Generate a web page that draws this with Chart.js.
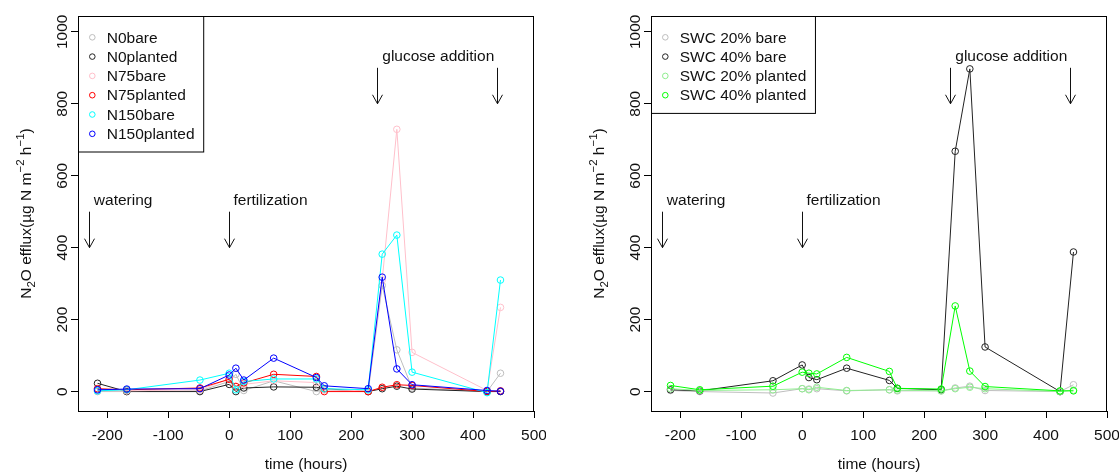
<!DOCTYPE html>
<html>
<head>
<meta charset="utf-8">
<script src="https://cdn.jsdelivr.net/npm/chart.js@4"></script>
<style>
html, body { margin:0; padding:0; background:#fff; overflow:hidden; }
#wrap { position:relative; width:1119px; height:472px; }
.panel { position:absolute; top:0; }
</style>
</head>
<body>
<div id="wrap">
  <canvas id="c1" class="panel" width="546" height="472" style="left:0px"></canvas>
  <canvas id="c2" class="panel" width="546" height="472" style="left:573px"></canvas>
</div>
<script>
// sampling times (hours)
const times = [-216, -168, -48, 0, 11, 24, 73, 143, 156, 228, 251, 275, 300, 423, 445];
const xTicks = [-200, -100, 0, 100, 200, 300, 400, 500];
const yTicks = [0, 200, 400, 600, 800, 1000];

// left panel : N treatments
const n0bare      = [0, 0, 2, 28, 48, 3, 30, 0, 5, 0, 295, 116, 10, 0, 51];
const n0planted   = [23, 0, 0, 20, 0, 10, 13, 12, 8, 0, 8, 15, 7, 0, 0];
const n75bare     = [3, 2, 5, 35, 15, 20, 30, 25, 5, 2, 310, 729, 109, 3, 234];
const n75planted  = [8, 5, 10, 34, 14, 24, 48, 42, 0, 0, 12, 19, 17, 0, 2];
const n150bare    = [2, 5, 32, 51, 5, 28, 35, 35, 8, 5, 382, 435, 54, -3, 310];
const n150planted = [5, 7, 8, 46, 65, 32, 93, 39, 16, 8, 318, 63, 19, 3, 1];

// right panel : soil water content
const swc20bare    = [3, 0, -4, 8, 7, 8, 2, 5, 2, 2, 10, 15, 3, 0, 19];
const swc40bare    = [5, 2, 30, 74, 39, 33, 65, 31, 9, 5, 668, 897, 124, 0, 388];
const swc20planted = [8, 3, 5, 8, 5, 12, 3, 5, 4, 2, 8, 12, 8, 0, 4];
const swc40planted = [17, 5, 15, 54, 51, 49, 95, 56, 9, 7, 238, 57, 14, 2, 2];

const leftNames  = ['N0bare', 'N0planted', 'N75bare', 'N75planted', 'N150bare', 'N150planted'];
const leftColors = ['#bebebe', '#222222', '#ffc0cb', '#ff0000', '#00ffff', '#0000ff'];
const rightNames  = ['SWC 20% bare', 'SWC 40% bare', 'SWC 20% planted', 'SWC 40% planted'];
const rightColors = ['#bebebe', '#222222', '#90ee90', '#00ff00'];

// events: arrows (x, from y, to y) and labels (x, y, text, align)
const eventArrows = [[-230, 500, 400], [0, 500, 400], [242, 900, 800], [440, 900, 800]];
const eventLabels = [[-222, 530, 'watering', 'left'], [7, 530, 'fertilization', 'left'], [343, 932, 'glucose addition', 'center']];

const FONT = '"Liberation Sans", Arial, sans-serif';
const FS = 15.5;

function richText(ctx, parts, cx, cy) {
  // parts: [text, kind] kind 0 normal, 1 sub, 2 sup ; drawn rotated
  let total = 0;
  for (const p of parts) {
    ctx.font = (p[1] ? 11.5 : FS) + 'px ' + FONT;
    total += ctx.measureText(p[0]).width;
  }
  ctx.save();
  ctx.translate(cx, cy);
  ctx.rotate(-Math.PI / 2);
  ctx.textAlign = 'left';
  ctx.textBaseline = 'alphabetic';
  let pos = -total / 2;
  for (const p of parts) {
    ctx.font = (p[1] ? 11.5 : FS) + 'px ' + FONT;
    let dy = p[1] == 1 ? 4 : (p[1] == 2 ? -7 : 0);
    ctx.fillText(p[0], pos, dy);
    pos += ctx.measureText(p[0]).width;
  }
  ctx.restore();
}

function arrow(ctx, x, y1, y2) {
  ctx.beginPath();
  ctx.moveTo(x, y1);
  ctx.lineTo(x, y2);
  ctx.moveTo(x - 5, y2 - 9);
  ctx.lineTo(x, y2);
  ctx.lineTo(x + 5, y2 - 9);
  ctx.stroke();
}

const decor = {
  id: 'decor',
  afterDraw(chart, args, opts) {
    const ctx = chart.ctx;
    const a = chart.chartArea;
    const x = chart.scales.x, y = chart.scales.y;
    ctx.save();
    ctx.strokeStyle = '#000';
    ctx.fillStyle = '#111';
    ctx.lineWidth = 1;
    // box round the plot
    ctx.strokeRect(a.left + 0.5, a.top + 0.5, a.right - a.left - 1, a.bottom - a.top);

    // y tick labels, rotated as in R
    ctx.font = FS + 'px ' + FONT;
    for (const t of y.ticks) {
      const py = y.getPixelForValue(t.value);
      ctx.save();
      ctx.translate(a.left - 11, py);
      ctx.rotate(-Math.PI / 2);
      ctx.textAlign = 'center';
      ctx.textBaseline = 'alphabetic';
      ctx.fillText(String(t.value), 0, 0);
      ctx.restore();
    }

    // axis titles
    ctx.textAlign = 'center';
    ctx.textBaseline = 'alphabetic';
    ctx.fillText('time (hours)', (a.left + a.right) / 2, 469);
    richText(ctx, [['N', 0], ['2', 1], ['O efflux(\u00b5g N m', 0], ['\u22122', 2], [' h', 0], ['\u22121', 2], [')', 0]],
      31, (a.top + a.bottom) / 2);

    // events
    ctx.strokeStyle = '#111';
    for (const e of eventArrows) {
      const px = Math.round(x.getPixelForValue(e[0])) + 0.5;
      arrow(ctx, px, y.getPixelForValue(e[1]), y.getPixelForValue(e[2]));
    }
    ctx.font = FS + 'px ' + FONT;
    ctx.textBaseline = 'middle';
    for (const l of eventLabels) {
      ctx.textAlign = l[3];
      ctx.fillText(l[2], x.getPixelForValue(l[0]), y.getPixelForValue(l[1]));
    }

    // legend
    const names = opts.names, colors = opts.colors;
    let w = 0;
    for (const n of names) w = Math.max(w, ctx.measureText(n).width);
    const bw = 28.7 + w + 8.6;
    const bh = 21.3 + (names.length - 1) * 19.3 + 17.7;
    ctx.fillStyle = '#fff';
    ctx.fillRect(a.left, a.top, bw, bh);
    ctx.strokeStyle = '#000';
    ctx.strokeRect(a.left + 0.5, a.top + 0.5, bw, bh);
    ctx.textAlign = 'left';
    names.forEach((n, i) => {
      const ry = a.top + 21.3 + i * 19.3;
      ctx.strokeStyle = colors[i];
      ctx.beginPath();
      ctx.arc(a.left + 14.3, ry, 2.8, 0, Math.PI * 2);
      ctx.stroke();
      ctx.fillStyle = '#111';
      ctx.fillText(n, a.left + 28.7, ry + 1);
    });
    ctx.restore();
  }
};

function makeChart(id, names, colors, series) {
  const datasets = names.map((n, i) => ({
    label: n,
    data: times.map((t, j) => ({ x: t, y: series[i][j] })),
    borderColor: colors[i],
    pointBorderColor: colors[i],
    pointBackgroundColor: 'rgba(0,0,0,0)',
    pointRadius: 3.3,
    pointBorderWidth: 1,
    borderWidth: 1,
    tension: 0,
    order: -i
  }));
  return new Chart(document.getElementById(id), {
    type: 'line',
    data: { datasets: datasets },
    options: {
      responsive: false,
      animation: false,
      layout: { padding: { top: 16, right: 12, left: 0, bottom: 0 } },
      plugins: {
        legend: { display: false },
        tooltip: { enabled: false },
        decor: { names: names, colors: colors }
      },
      scales: {
        x: {
          type: 'linear', min: -248, max: 500,
          afterBuildTicks: s => { s.ticks = xTicks.map(v => ({ value: v })); },
          afterFit: s => { s.height = 61; s.paddingLeft = 0; s.paddingRight = 0; },
          grid: { drawOnChartArea: false, drawTicks: true, tickLength: 7, color: '#000' },
          border: { display: false },
          ticks: { font: { family: FONT, size: FS }, color: '#111', padding: 8, maxRotation: 0, autoSkip: false }
        },
        y: {
          type: 'linear', min: -54, max: 1044,
          afterBuildTicks: s => { s.ticks = yTicks.map(v => ({ value: v })); },
          afterFit: s => { s.width = 78; s.paddingTop = 0; s.paddingBottom = 0; },
          grid: { drawOnChartArea: false, drawTicks: true, tickLength: 7, color: '#000' },
          border: { display: false },
          ticks: { font: { family: FONT, size: FS }, color: 'rgba(0,0,0,0)' }
        }
      }
    },
    plugins: [decor]
  });
}

makeChart('c1', leftNames, leftColors, [n0bare, n0planted, n75bare, n75planted, n150bare, n150planted]);
makeChart('c2', rightNames, rightColors, [swc20bare, swc40bare, swc20planted, swc40planted]);
</script>
</body>
</html>
